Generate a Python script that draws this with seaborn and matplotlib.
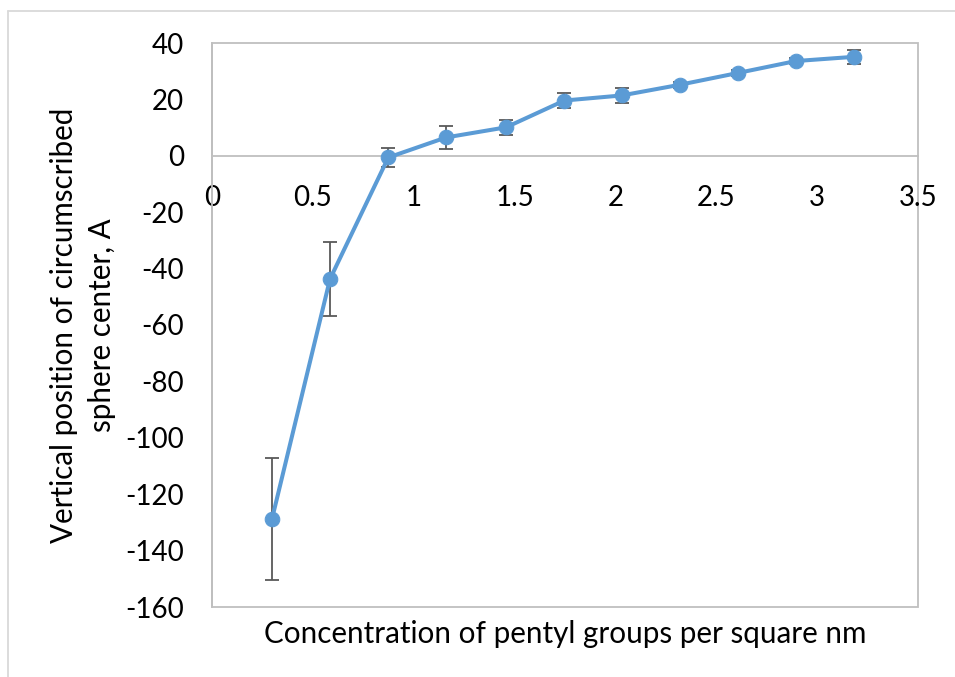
import matplotlib
matplotlib.use("Agg")
import matplotlib.pyplot as plt
import seaborn as sns
import pandas as pd
from matplotlib.lines import Line2D
from matplotlib.patches import Rectangle

# ---- data ----
concentration = [0.297, 0.585, 0.874, 1.160, 1.458, 1.747, 2.031, 2.320, 2.609, 2.894, 3.183]
position = [-128.9, -43.7, -0.6, 6.5, 10.1, 19.6, 21.4, 25.2, 29.4, 33.6, 35.1]
error = [21.6, 13.1, 3.5, 4.1, 2.6, 2.8, 2.6, 1.0, 1.0, 1.0, 2.4]
x_ticks = [0, 0.5, 1, 1.5, 2, 2.5, 3, 3.5]
x_tick_labels = ["0", "0.5", "1", "1.5", "2", "2.5", "3", "3.5"]
y_ticks = [40, 20, 0, -20, -40, -60, -80, -100, -120, -140, -160]
x_label = "Concentration of pentyl groups per square nm"
y_label = "Vertical position of circumscribed\nsphere center, A"

df = pd.DataFrame({"x": concentration, "y": position, "err": error})

sns.set_theme(style="white")
plt.rcParams["font.family"] = ["Lato", "DejaVu Sans"]

W, H = 955, 677
fig = plt.figure(figsize=(W / 100, H / 100), dpi=100)
L, R, T, B = 212, 918, 43, 607
ax = fig.add_axes([L / W, 1 - B / H, (R - L) / W, (B - T) / H])

blue = "#5B9BD5"
grey = "#BFBFBF"

ax.errorbar(df["x"], df["y"], yerr=df["err"], fmt="none", ecolor="#595959",
            elinewidth=1.3, capsize=4.7, capthick=1.3, zorder=2)
sns.lineplot(data=df, x="x", y="y", ax=ax, color=blue, linewidth=2.9,
             marker="o", markersize=10.5, markeredgecolor=blue,
             markerfacecolor=blue, zorder=3, legend=False)

ax.set_xlim(0, 3.5)
ax.set_ylim(-160, 40)
ax.set_xticks(x_ticks)
ax.set_xticklabels(x_tick_labels)
ax.set_yticks(y_ticks)
ax.set_yticklabels([str(v) for v in y_ticks])

for s in ["top", "right"]:
    ax.spines[s].set_visible(False)
ax.spines["bottom"].set_position(("data", 0))
for s in ["left", "bottom"]:
    ax.spines[s].set_color(grey)
    ax.spines[s].set_linewidth(1.3)
ax.add_patch(Rectangle((0, 0), 1, 1, transform=ax.transAxes, fill=False,
                       edgecolor=grey, linewidth=1.3, zorder=0.5, clip_on=False))

ax.tick_params(axis="both", direction="inout", length=14.4, width=1.3,
               color=grey, labelsize=20, labelcolor="black")
ax.tick_params(axis="y", pad=13)
ax.tick_params(axis="x", pad=14)
ax.grid(False)

ax.set_xlabel(x_label, fontsize=21.3, color="black")
ax.set_ylabel(y_label, fontsize=21.3, color="black", linespacing=1.4)
ax.xaxis.label.set_va("center")
ax.xaxis.set_label_coords(0.5, -(634 - B) / (B - T))
ax.yaxis.label.set_va("center")
ax.yaxis.set_label_coords((83 - L) / (R - L), 0.5)

# outer chart-area border (left and top edges visible)
fig.add_artist(Line2D([8 / W, 8 / W], [0, 1 - 11 / H], transform=fig.transFigure,
                      color="#D9D9D9", linewidth=1.3))
fig.add_artist(Line2D([8 / W, 1], [1 - 11 / H, 1 - 11 / H], transform=fig.transFigure,
                      color="#D9D9D9", linewidth=1.3))

fig.savefig("out.png", dpi=100)
